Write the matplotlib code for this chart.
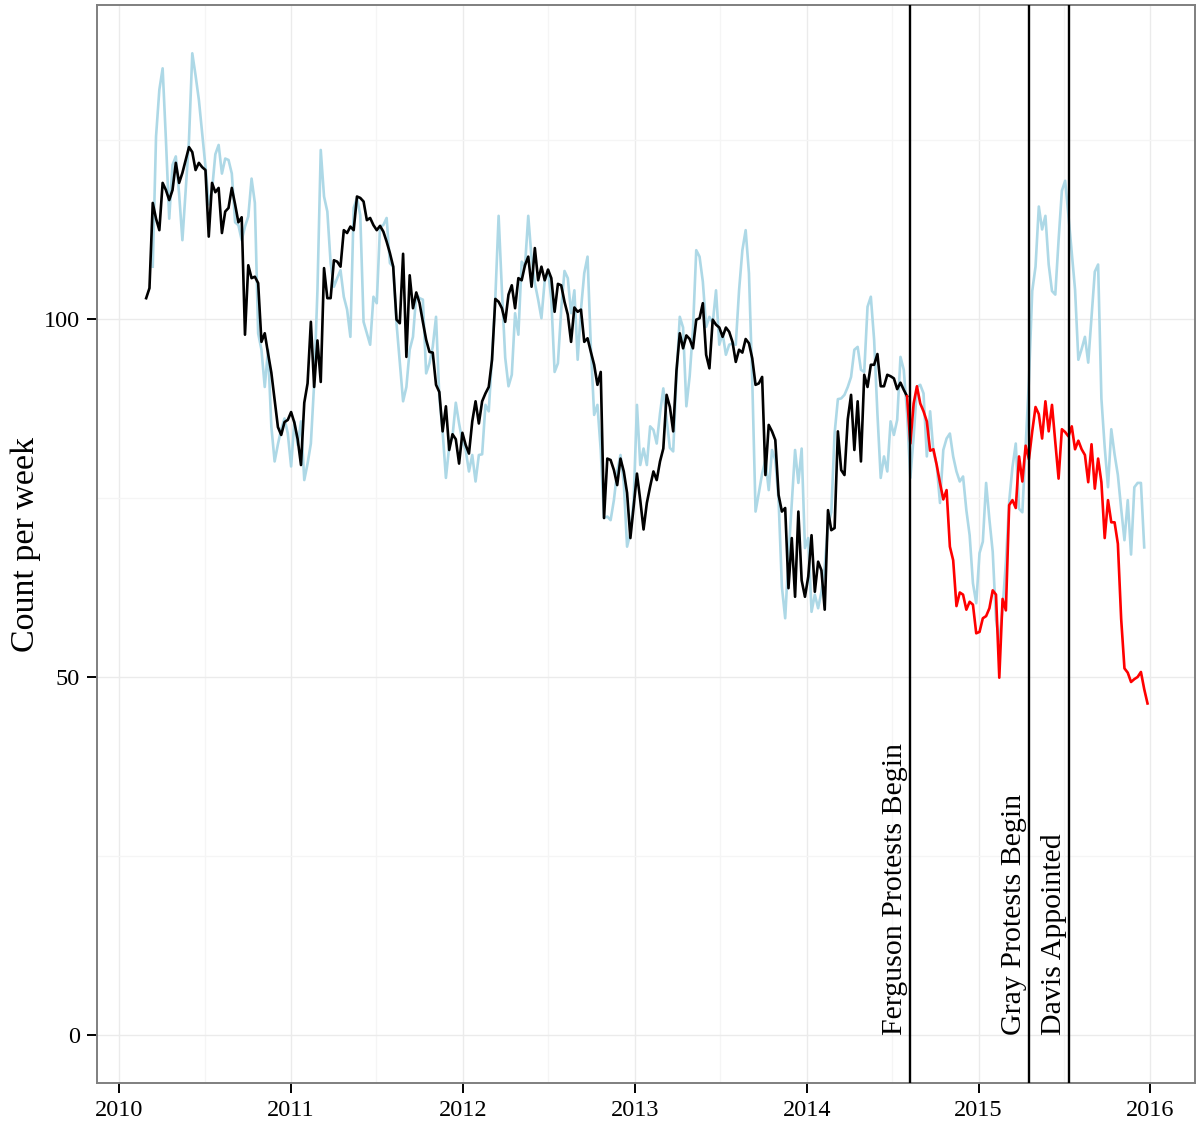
import matplotlib
matplotlib.use("Agg")
import matplotlib.pyplot as plt
import matplotlib.dates as mdates
import matplotlib.transforms as mtransforms
import pandas as pd


# weekly counts (light blue), starting at week index 2
WEEKLY_START_IDX = 2
weekly_counts = [
    107.3, 125.5, 132, 135, 125, 114, 121.5, 122.7,
    117.5, 111, 118, 125, 137.1, 134, 130.6, 126, 121.3, 116,
    118, 123, 124.3, 120.3, 122.4, 122.2, 120.3, 113.5, 113.1, 111,
    112.9, 114.3, 119.6, 116.2, 98, 95.7, 90.5, 95.7, 85, 80.1,
    82.5, 84.6, 86.1, 84, 79.4, 85.7, 82.4, 85.7, 77.5, 79.8,
    82.6, 91, 104, 123.6, 117.1, 115, 107.8, 104.5, 105.7, 106.8,
    103.1, 101.3, 97.5, 115.5, 116.9, 114.5, 99.6, 98, 96.4, 103.1,
    102.2, 112.9, 113.1, 114.1, 107.8, 107.3, 99.4, 94, 88.5, 90.5,
    95.7, 97.5, 103.4, 102.9, 102.7, 92.4, 93.8, 96.1, 100.3, 89.1,
    84.3, 77.8, 82.2, 83.6, 88.3, 85.4, 82.9, 81.7, 78.7, 81,
    77.3, 81, 81.1, 88, 87.1, 94.7, 102.9, 114.4, 104, 94.6,
    90.6, 92.2, 100.8, 97.8, 108, 107.3, 114.4, 108.5, 105, 102.7,
    100.1, 105.4, 106.8, 102.7, 92.6, 93.8, 101.3, 106.7, 105.7, 100.8,
    104, 94.3, 101.3, 106.4, 108.7, 96.1, 86.6, 88, 81.7, 72.2,
    72.4, 71.9, 74.7, 78.7, 81, 77.1, 68.2, 70.1, 74.7, 88,
    79.6, 81.9, 79.6, 85, 84.5, 82.6, 86.8, 90.3, 86, 82,
    81.5, 92, 100.3, 98.8, 87.8, 92, 98.5, 109.6, 108.7, 105.2,
    98.9, 100.3, 99.4, 104, 96.4, 98, 95, 96.4, 96.6, 96.4,
    104, 109.6, 112.4, 106.4, 91.5, 73.1, 75.7, 78.4, 80.3, 76.1,
    81.7, 80.3, 74.7, 62.6, 58.2, 66.8, 74.3, 81.7, 77.1, 81.9,
    68, 69.4, 59.1, 61.5, 59.6, 61.9, 65.4, 71.2, 73, 84,
    88.8, 88.9, 89.4, 90.5, 91.9, 95.7, 96.1, 92.9, 92.6, 101.7,
    103.1, 97.1, 86.8, 77.8, 80.8, 78.7, 85.7, 83.8, 85.9, 94.7,
    92.9, 86.8, 77.8, 83.6, 90.5, 90.8, 89.6, 80.8, 87.1, 81.5,
    79.6, 74.3, 81.7, 83.3, 84, 80.8, 78.7, 77.3, 78, 73.3,
    69.8, 63.1, 60.3, 67.3, 68.9, 77.1, 72, 67.5, 58, 55,
    59.6, 66, 74.5, 79.3, 82.6, 73.5, 73, 82.1, 91.4, 103.9,
    107.3, 115.7, 112.5, 114.4, 107.6, 103.9, 103.4, 111, 117.9, 119.3,
    114.4, 109.3, 104.1, 94.3, 95.8, 97.5, 93.9, 100.2, 106.6, 107.6,
    88.9, 82.1, 76.5, 84.6, 81.1, 78.2, 73.5, 69.1, 74.7, 67.1,
    76.5, 77.1, 77.1, 68.1,
]

# smoothed trend before Ferguson (black), starting at week index 0
trend_before = [
    102.9, 104.3, 116.2, 114, 112.4, 119, 118, 116.6, 118, 121.8,
    119, 120.4, 122.2, 124, 123.3, 120.8, 121.8, 121.2, 120.8, 111.5,
    119, 117.7, 118.3, 112, 115, 115.5, 118.3, 116, 113.5, 114.2,
    97.8, 107.5, 105.7, 105.9, 105, 96.8, 98, 95.2, 92.5, 88.7,
    84.9, 83.8, 85.6, 85.9, 87, 85.5, 83.2, 79.6, 88.3, 91,
    99.6, 90.5, 97, 91.2, 107.1, 102.9, 102.9, 108.2, 108, 107.3,
    112.4, 112, 112.9, 112.4, 117.1, 116.9, 116.4, 113.8, 114.1, 113.1,
    112.4, 113, 112.2, 110.8, 109.2, 107.3, 99.9, 99.4, 109.1, 94.7,
    106.1, 101.5, 103.7, 102.2, 99.6, 97.1, 95.4, 95.3, 90.8, 89.8,
    84.3, 87.8, 81.7, 83.9, 83.2, 79.8, 84.1, 82.4, 81.2, 85.7,
    88.5, 85.4, 88.5, 89.6, 90.5, 94.3, 102.8, 102.4, 101.5, 99.6,
    103.4, 104.7, 101.5, 105.7, 105.4, 107.5, 108.7, 104.5, 109.9, 105.4,
    107.3, 105.4, 106.9, 105.7, 101, 104.9, 104.7, 102.4, 100.6, 96.8,
    101.6, 101, 101.3, 96.8, 97.3, 95.4, 93.6, 90.8, 92.6, 72.2,
    80.5, 80.3, 78.9, 76.8, 80.5, 78.7, 75.7, 69.4, 73.8, 78.4,
    74.7, 70.6, 74.3, 76.6, 78.7, 77.5, 80.1, 81.9, 89.4, 87.7,
    84.3, 92.8, 98, 95.9, 97.7, 97.2, 95.9, 99.9, 100.1, 102.2,
    95, 93.1, 99.9, 99.2, 98.8, 97.5, 98.8, 98.2, 96.8, 94,
    95.7, 95.3, 97.2, 96.6, 94.5, 90.8, 91, 91.9, 78.2, 85.2,
    84.3, 83.1, 75.4, 73.1, 73.6, 62.4, 69.4, 61.2, 73.1, 63.5,
    61.2, 64, 69.8, 61.9, 66.1, 64.9, 59.4, 73.3, 70.5, 70.8,
    84.3, 78.9, 78.2, 86, 89.4, 81.7, 88.5, 80.1, 92.2, 90.5,
    93.6, 93.6, 95.1, 90.6, 90.6, 92.2, 92, 91.7, 90.2, 91.1,
    90.1, 89.2,
]

# smoothed trend after Ferguson (red), starting at week index 231
AFTER_START_IDX = 231
trend_after = [
    89.2, 82.6, 88.2, 90.6, 88.2, 87.1, 85.7, 81.6, 81.8, 79.6,
    77.1, 74.8, 76.1, 68.2, 66.3, 59.9, 61.8, 61.5, 59.4, 60.5,
    60.1, 56.1, 56.3, 58.2, 58.5, 59.6, 62.1, 61.5, 49.9, 60.9,
    59.3, 74, 74.7, 73.6, 80.8, 77.3, 82.3, 80.4, 84.3, 87.7,
    86.7, 83.3, 88.5, 84.3, 88, 82.8, 77.7, 84.6, 84.2, 83.6,
    85, 81.8, 83, 81.8, 81, 77.2, 82.5, 76.3, 80.5, 77.2,
    69.4, 74.7, 71.6, 71.6, 68.6, 58.1, 51.2, 50.6, 49.3, 49.7,
    50, 50.7, 48.3, 46.3,
]

FIRST_WEEK = "2010-02-27"

events = ["Ferguson Protests Begin", "Gray Protests Begin", "Davis Appointed"]
event_dates = ["2014-08-09", "2015-04-19", "2015-07-12"]


def weeks(start_idx, n):
    return pd.date_range(FIRST_WEEK, periods=start_idx + n, freq="7D")[start_idx:]


def main():
    plt.rcParams['font.family'] = ['Liberation Serif', 'DejaVu Serif']

    fig = plt.figure(figsize=(11.96, 11.28), dpi=100)
    ax = fig.add_axes([0.0809, 0.0396, 0.9183, 0.956])

    ax.plot(weeks(WEEKLY_START_IDX, len(weekly_counts)), weekly_counts,
            color='#ADD8E6', lw=1.9, zorder=2)
    ax.plot(weeks(0, len(trend_before)), trend_before, color='black', lw=1.9, zorder=3)
    ax.plot(weeks(AFTER_START_IDX, len(trend_after)), trend_after, color='#FF0000', lw=1.9, zorder=3)

    # event markers with rotated labels to the left of each line
    label_shift = mtransforms.offset_copy(ax.transData, fig=fig, x=-1.5, y=0, units='points')
    for name, d in zip(events, event_dates):
        dt = pd.Timestamp(d)
        ax.axvline(dt, color='black', lw=1.7, zorder=4)
        ax.text(dt, 0, name, rotation=90, ha='right', va='bottom',
                fontsize=21.5, color='black', transform=label_shift, zorder=5)

    ax.set_xlim(pd.Timestamp("2009-11-14"), pd.Timestamp("2016-04-05"))
    ax.set_ylim(-6.75, 143.85)

    ax.xaxis.set_major_locator(mdates.YearLocator())
    ax.xaxis.set_major_formatter(mdates.DateFormatter('%Y'))
    ax.xaxis.set_minor_locator(mdates.MonthLocator(bymonth=7))
    ax.set_yticks([0, 50, 100])
    ax.set_yticks([25, 75, 125], minor=True)

    ax.grid(True, which='major', color='#EBEBEB', lw=1.0)
    ax.grid(True, which='minor', color='#F5F5F5', lw=1.0)
    ax.set_axisbelow(True)

    ax.tick_params(axis='both', which='major', labelsize=17.5, length=7, width=1.4,
                   color='black', labelcolor='black', pad=5)
    ax.tick_params(axis='both', which='minor', length=0)
    for s in ax.spines.values():
        s.set_color('#7F7F7F')
        s.set_linewidth(1.4)

    ax.set_ylabel('Count per week', fontsize=24.5, labelpad=2)

    fig.savefig('out.png', dpi=100)


if __name__ == "__main__":
    main()
